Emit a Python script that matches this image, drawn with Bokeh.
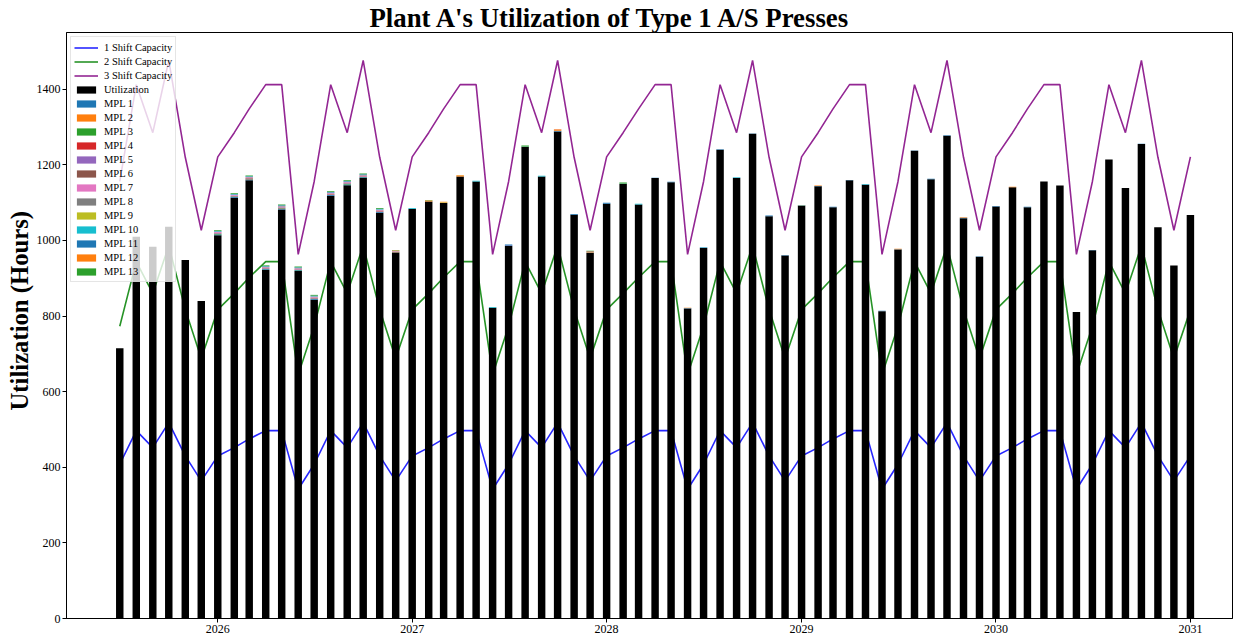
import pandas as pd
from bokeh.plotting import figure
from bokeh.models import ColumnDataSource, Range1d, FixedTicker, DatetimeTickFormatter, Title
from bokeh.embed import file_html
from bokeh.resources import INLINE

# Monthly periods: Jul 2025 .. Jan 2031
months = pd.date_range("2025-07-01", "2031-01-01", freq="MS")

shift1 = [408, 497, 452, 518, 430, 364,
          430, 452, 475, 497, 497, 342, 408, 497, 452, 518, 430, 364,
          430, 452, 475, 497, 497, 342, 408, 497, 452, 518, 430, 364,
          430, 452, 475, 497, 497, 342, 408, 497, 452, 518, 430, 364,
          430, 452, 475, 497, 497, 342, 408, 497, 452, 518, 430, 364,
          430, 452, 475, 497, 497, 342, 408, 497, 452, 518, 430, 364,
          430]
shift2 = [773, 944, 860, 986, 817, 688,
          817, 860, 902, 944, 944, 645, 773, 944, 860, 986, 817, 688,
          817, 860, 902, 944, 944, 645, 773, 944, 860, 986, 817, 688,
          817, 860, 902, 944, 944, 645, 773, 944, 860, 986, 817, 688,
          817, 860, 902, 944, 944, 645, 773, 944, 860, 986, 817, 688,
          817, 860, 902, 944, 944, 645, 773, 944, 860, 986, 817, 688,
          817]
shift3 = [1156, 1412, 1285, 1476, 1220, 1027,
          1221, 1285, 1348, 1412, 1412, 963, 1156, 1412, 1285, 1476, 1220, 1027,
          1221, 1285, 1348, 1412, 1412, 963, 1156, 1412, 1285, 1476, 1220, 1027,
          1221, 1285, 1348, 1412, 1412, 963, 1156, 1412, 1285, 1476, 1220, 1027,
          1221, 1285, 1348, 1412, 1412, 963, 1156, 1412, 1285, 1476, 1220, 1027,
          1221, 1285, 1348, 1412, 1412, 963, 1156, 1412, 1285, 1476, 1220, 1027,
          1221]

utilization = [715, 1010, 983, 1036, 948, 840,
               1014, 1113, 1159, 922, 1082, 919, 843, 1118, 1146, 1165, 1073, 968,
               1083, 1103, 1099, 1169, 1156, 822, 985, 1247, 1169, 1288, 1068, 967,
               1097, 1149, 1095, 1165, 1154, 820, 980, 1240, 1165, 1282, 1064, 960,
               1092, 1143, 1088, 1159, 1147, 813, 976, 1237, 1162, 1277, 1059, 957,
               1090, 1141, 1088, 1156, 1145, 811, 974, 1214, 1139, 1255, 1035, 934,
               1067]

mpl1  = [0,0,0,0,0,0, 2,2,2,2,2,2,2,2,2,2,2,1, 1,0,0,0,0,0,2,1,0,2,2,1, 2,1,0,1,1,1,1,1,1,1,2,1, 1,1,1,1,1,1,1,1,1,1,1,1, 1,0,1,0,0,0,1,0,0,1,0,0, 0]
mpl2  = [0,0,0,0,0,0, 0,0,0,0,0,0,0,0,0,0,0,1, 0,1,1,2,0,0,0,0,0,2,0,2, 0,0,0,0,0,1,0,0,0,0,0,0, 0,1,0,0,0,0,1,0,0,0,0,0, 0,1,0,0,0,0,0,0,0,0,0,0, 0]
mpl3  = [0,0,0,0,0,0, 1,1,1,1,1,1,1,1,1,1,1,1, 0,1,0,0,0,0,0,1,0,0,0,1, 0,1,0,0,0,0,0,0,0,0,0,0, 0,0,0,0,0,0,0,0,0,0,0,0, 0,0,0,0,0,0,0,0,0,0,0,0, 0]
mpl4  = [0,0,0,0,0,0, 1,1,1,1,1,1,1,1,1,1,1,0, 0,0,0,0,0,0,0,0,0,1,0,0, 0,0,0,0,0,0,0,0,0,0,0,0, 0,0,0,0,0,0,0,0,0,0,0,0, 0,0,0,0,0,0,0,0,0,0,0,0, 0]
mpl5  = [0,0,0,0,0,0, 1,1,1,1,1,1,1,1,1,1,1,0, 0,0,0,0,0,0,1,0,0,0,0,0, 0,0,0,0,0,0,0,0,0,0,0,0, 0,0,0,0,0,0,0,0,0,0,0,0, 0,0,0,0,0,0,0,0,0,0,0,0, 0]
mpl6  = [0,0,0,0,0,0, 1,0,1,0,1,0,1,0,1,0,1,0, 0,0,0,0,0,0,0,0,0,0,0,1, 0,0,0,0,0,0,0,0,0,0,0,0, 0,0,0,0,0,0,0,0,0,0,0,0, 0,0,0,0,0,0,0,0,0,0,0,0, 0]
mpl7  = [0,0,0,0,0,0, 2,2,2,2,2,2,2,2,2,2,2,1, 0,0,0,0,0,0,0,0,0,0,0,0, 0,0,0,0,0,0,0,0,0,0,0,0, 0,0,0,0,0,0,0,0,0,0,0,0, 0,0,0,0,0,0,0,0,0,0,0,0, 0]
mpl8  = [0,0,0,0,0,0, 1,1,1,1,1,1,1,1,1,1,1,0, 0,0,0,0,0,0,0,0,0,0,0,0, 0,0,0,0,0,0,0,0,0,0,0,0, 0,0,0,0,0,0,0,0,0,0,0,0, 0,0,0,0,0,0,0,0,0,0,0,0, 0]
mpl9  = [0,0,0,0,0,0, 0,0,0,0,0,0,0,0,0,0,0,0, 0,0,1,1,0,0,0,0,0,0,0,0, 0,0,0,0,0,0,0,0,0,0,0,0, 1,0,0,0,0,0,0,0,0,0,0,0, 0,0,0,0,0,0,0,0,0,0,0,0, 0]
mpl10 = [0,0,0,0,0,0, 1,1,1,1,1,1,1,1,1,1,1,1, 2,0,0,0,2,2,0,0,2,0,0,0, 0,0,2,0,0,0,1,0,1,0,0,0, 0,0,0,0,1,0,0,0,0,0,0,0, 0,0,0,0,0,0,0,0,0,0,0,0, 0]
mpl11 = [0,0,0,0,0,0, 1,1,1,1,1,1,1,1,1,1,1,0, 0,0,0,0,0,0,1,0,0,0,0,0, 1,0,0,0,0,0,0,0,0,0,0,0, 0,0,0,0,0,0,0,0,0,0,0,0, 0,0,0,0,0,0,0,0,0,0,0,0, 0]
mpl12 = [0,0,0,0,0,0, 0,0,0,0,0,0,0,0,0,0,0,1, 0,1,1,1,0,0,0,0,0,1,0,0, 0,0,0,0,0,0,0,0,0,0,0,0, 0,0,0,0,0,0,0,0,0,0,1,0, 0,0,0,0,0,0,0,0,0,0,0,0, 0]
mpl13 = [0,0,0,0,0,0, 2,2,2,2,2,2,2,2,2,2,2,1, 0,1,0,0,0,0,0,2,0,0,0,1, 0,2,0,0,0,0,0,0,0,0,0,0, 0,0,0,0,0,0,0,0,0,0,0,0, 0,0,0,0,0,0,0,0,0,0,0,0, 0]

year_ticks = ["2026-01-01", "2027-01-01", "2028-01-01", "2029-01-01", "2030-01-01", "2031-01-01"]
y_ticks = [0, 200, 400, 600, 800, 1000, 1200, 1400]

mpl_lists = [mpl1, mpl2, mpl3, mpl4, mpl5, mpl6, mpl7, mpl8, mpl9, mpl10, mpl11, mpl12, mpl13]
mpl_names = ["MPL %d" % (i + 1) for i in range(13)]
mpl_colors = ["#1f77b4", "#ff7f0e", "#2ca02c", "#d62728", "#9467bd", "#8c564b",
              "#e377c2", "#7f7f7f", "#bcbd22", "#17becf", "#1f77b4", "#ff7f0e", "#2ca02c"]

data = {"date": months, "util": utilization}
for i, lst in enumerate(mpl_lists):
    data["mpl%d" % (i + 1)] = lst
source = ColumnDataSource(data)

FONT = "Liberation Serif"

p = figure(width=1243, height=635, x_axis_type="datetime",
           output_backend="svg", toolbar_location=None,
           x_range=Range1d(pd.Timestamp("2025-03-23"), pd.Timestamp("2031-03-21")),
           y_range=Range1d(0, 1550),
           min_border_left=66, min_border_right=11, min_border_top=30, min_border_bottom=17)

p.title.text = "Plant A's Utilization of Type 1 A/S Presses"
p.title.text_font = FONT
p.title.text_font_size = "26.8px"
p.title.text_font_style = "bold"
p.title.text_color = "black"
p.title.align = "left"
p.title.standoff = 0
p.title.offset = 303

p.line(months, shift1, color="blue", line_width=1.6, alpha=0.85, legend_label="1 Shift Capacity")
p.line(months, shift2, color="green", line_width=1.6, alpha=0.85, legend_label="2 Shift Capacity")
p.line(months, shift3, color="purple", line_width=1.6, alpha=0.85, legend_label="3 Shift Capacity")

bar_w = 14 * 24 * 3600 * 1000
p.vbar_stack(["util"] + ["mpl%d" % (i + 1) for i in range(13)], x="date", width=bar_w,
             fill_color=["black"] + mpl_colors, line_color=None, source=source,
             legend_label=["Utilization"] + mpl_names)

p.xgrid.grid_line_color = None
p.ygrid.grid_line_color = None
p.outline_line_color = "black"
p.outline_line_width = 1

p.xaxis.ticker = FixedTicker(ticks=[pd.Timestamp(t).value // 10**6 for t in year_ticks])
p.xaxis.formatter = DatetimeTickFormatter(years="%Y", months="%Y", days="%Y")
p.yaxis.ticker = FixedTicker(ticks=y_ticks)

for ax in (p.xaxis, p.yaxis):
    ax.minor_tick_line_color = None
    ax.major_tick_in = 0
    ax.major_tick_out = 4
    ax.major_label_text_font = FONT
    ax.major_label_text_font_size = "12px"
    ax.major_label_text_color = "black"
    ax.major_label_standoff = 2
    ax.axis_line_color = "black"
    ax.major_tick_line_color = "black"

# Y-axis title as a side title in the left panel (outside the axis)
ytitle = Title(text="Utilization (Hours)", align="left", offset=208,
               text_font=FONT, text_font_size="24.7px", text_font_style="bold",
               text_color="black", standoff=2)
p.add_layout(ytitle, "left")

lg = p.legend[0]
lg.location = "top_left"
lg.margin = 4
lg.padding = 3
lg.spacing = 0
lg.label_height = 14
lg.glyph_height = 9
lg.glyph_width = 24
lg.label_standoff = 6
lg.label_text_font = FONT
lg.label_text_font_size = "10.5px"
lg.label_text_color = "black"
lg.background_fill_alpha = 0.8
lg.border_line_color = "#cccccc"
lg.border_line_width = 1

open("out.html", "w").write(file_html(p, INLINE))
